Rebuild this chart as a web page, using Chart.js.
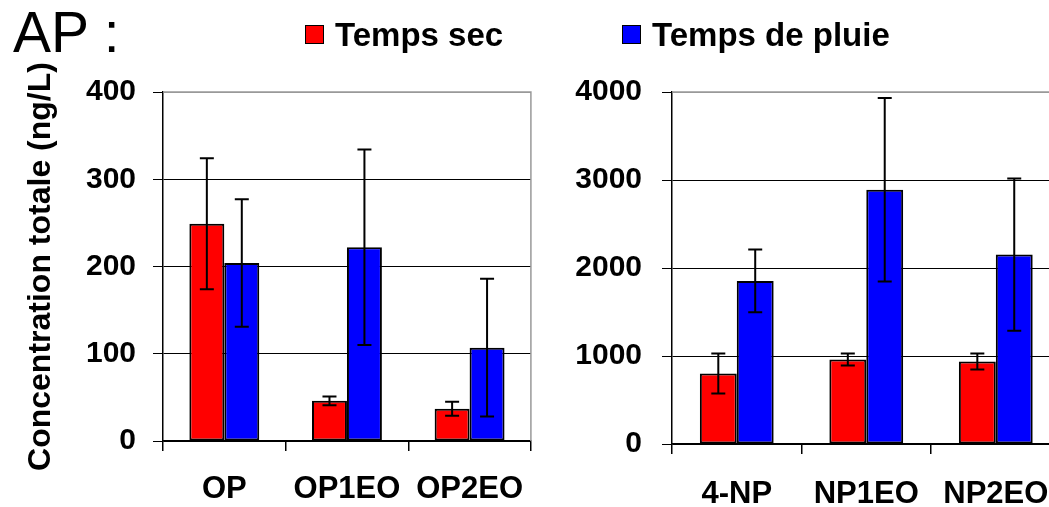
<!DOCTYPE html>
<html>
<head>
<meta charset="utf-8">
<script src="https://cdn.jsdelivr.net/npm/chart.js@4.4.1/dist/chart.umd.min.js"></script>
<style>
  html, body { margin: 0; padding: 0; background: #fff; overflow: hidden; }
  #wrap { position: relative; width: 1049px; height: 507px; overflow: hidden; font-family: 'Liberation Sans', Arial, sans-serif; }
  canvas { position: absolute; top: 0; }
  #leftChart { left: 0; }
  #rightChart { left: 545px; }
  .title { position: absolute; left: 13px; top: 4px; font-size: 57px; line-height: 57px; color: #000; }
  .sw { position: absolute; top: 25px; width: 17px; height: 17px; border: 1.5px solid #000; }
  .lbl { position: absolute; top: 18px; font-size: 33px; line-height: 33px; font-weight: bold; color: #000; white-space: nowrap; }
</style>
</head>
<body>
<div id="wrap">
  <canvas id="leftChart" width="545" height="507"></canvas>
  <canvas id="rightChart" width="527" height="507"></canvas>
  <div class="title">AP :</div>
  <div class="sw" id="sw0" style="left:305px"></div>
  <div class="lbl" id="lbl0" style="left:335px"></div>
  <div class="sw" id="sw1" style="left:622px"></div>
  <div class="lbl" id="lbl1" style="left:652px"></div>
</div>
<script>
'use strict';

// ---- Data ----
const seriesNames = ['Temps sec', 'Temps de pluie'];
const seriesColors = ['#ff0000', '#0000ff'];

const opCategories = ['OP', 'OP1EO', 'OP2EO'];
const opDry      = [249, 46, 37];
const opDryErr   = [75, 5, 8];
const opWet      = [204, 222, 107];
const opWetErr   = [73, 112, 79];
const opTicks    = [0, 100, 200, 300, 400];

const npCategories = ['4-NP', 'NP1EO', 'NP2EO'];
const npDry      = [800, 960, 938];
const npDryErr   = [227, 68, 90];
const npWet      = [1853, 2890, 2152];
const npWetErr   = [357, 1043, 865];
const npTicks    = [0, 1000, 2000, 3000, 4000];

const yTitle = 'Concentration totale (ng/L)';

// ---- Legend (shared by both panels) ----
seriesNames.forEach((name, i) => {
  document.getElementById('lbl' + i).textContent = name;
  document.getElementById('sw' + i).style.background = seriesColors[i];
});

const FONT = "'Liberation Sans', Arial, sans-serif";
const tickFont  = { family: FONT, size: 30, weight: 'bold' };
const labelFont = { family: FONT, size: 31, weight: 'bold' };

// error bars drawn through the y scale
const errorBars = {
  id: 'errorBars',
  afterDatasetsDraw(chart) {
    const { ctx } = chart;
    const y = chart.scales.y;
    ctx.save();
    ctx.strokeStyle = '#000';
    ctx.lineWidth = 2;
    chart.data.datasets.forEach((ds, di) => {
      chart.getDatasetMeta(di).data.forEach((bar, i) => {
        const v = ds.data[i], e = ds.errors[i];
        const top = y.getPixelForValue(v + e);
        const bot = y.getPixelForValue(v - e);
        ctx.beginPath();
        ctx.moveTo(bar.x, top); ctx.lineTo(bar.x, bot);
        ctx.moveTo(bar.x - 7, top); ctx.lineTo(bar.x + 7, top);
        ctx.moveTo(bar.x - 7, bot); ctx.lineTo(bar.x + 7, bot);
        ctx.stroke();
      });
    });
    ctx.restore();
  }
};

// grey frame on top and right of plot area
const plotFrame = {
  id: 'plotFrame',
  beforeDatasetsDraw(chart) {
    const { ctx, chartArea: a } = chart;
    ctx.save();
    ctx.strokeStyle = '#999';
    ctx.lineWidth = 1.5;
    ctx.beginPath();
    ctx.moveTo(a.left, a.top); ctx.lineTo(a.right, a.top); ctx.lineTo(a.right, a.bottom);
    ctx.stroke();
    ctx.restore();
  }
};

function makePanel(id, cats, dry, dryErr, wet, wetErr, ticks, opts) {
  const maxV = ticks[ticks.length - 1];
  return new Chart(document.getElementById(id), {
    type: 'bar',
    data: {
      labels: cats,
      datasets: [
        { label: seriesNames[0], data: dry, errors: dryErr, backgroundColor: seriesColors[0], borderColor: '#000', borderWidth: 2, borderSkipped: false },
        { label: seriesNames[1], data: wet, errors: wetErr, backgroundColor: seriesColors[1], borderColor: '#000', borderWidth: 2, borderSkipped: false },
      ]
    },
    options: {
      responsive: false,
      animation: false,
      categoryPercentage: 0.57,
      barPercentage: 1.0,
      layout: { padding: { top: 92, right: opts.padRight, left: 0, bottom: 0 } },
      plugins: { legend: { display: false }, tooltip: { enabled: false } },
      scales: {
        x: {
          grid: { offset: true, drawOnChartArea: false, drawTicks: true, tickLength: 10, color: '#000', lineWidth: 1.5 },
          border: { color: '#000', width: 1.5 },
          ticks: { color: '#000', font: labelFont, padding: opts.xPad, maxRotation: 0, autoSkip: false },
          afterFit: s => { s.height = opts.xHeight; }
        },
        y: {
          min: 0, max: maxV,
          afterBuildTicks: s => { s.ticks = ticks.map(v => ({ value: v })); },
          ticks: { color: '#000', font: tickFont, padding: opts.tickPad, callback: v => String(v) },
          grid: {
            color: c => (c.tick && c.tick.value === maxV) ? '#999' : '#000',
            tickColor: '#000', lineWidth: 1, tickLength: 10
          },
          border: { color: '#000', width: 1.5 },
          title: opts.title
            ? { display: true, text: opts.title, color: '#000', font: { family: FONT, size: 32, weight: 'bold' }, padding: { top: 22, bottom: 0 } }
            : { display: false },
          afterFit: s => { s.width = opts.yWidth; }
        }
      }
    },
    plugins: [plotFrame, errorBars]
  });
}

makePanel('leftChart', opCategories, opDry, opDryErr, opWet, opWetErr, opTicks,
  { yWidth: 163, xHeight: 66, padRight: 12, tickPad: 17, xPad: 20, title: yTitle });
makePanel('rightChart', npCategories, npDry, npDryErr, npWet, npWetErr, npTicks,
  { yWidth: 127, xHeight: 63, padRight: 10, tickPad: 20, xPad: 22, title: null });
</script>
</body>
</html>
